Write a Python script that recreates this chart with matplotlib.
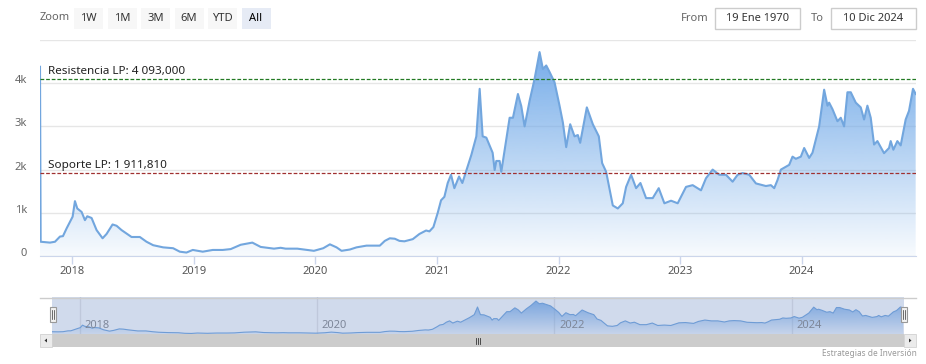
import numpy as np
import pandas as pd
import matplotlib
matplotlib.use("Agg")
import matplotlib.pyplot as plt
import matplotlib.dates as mdates
from matplotlib.colors import LinearSegmentedColormap, to_rgb
from matplotlib.patches import Rectangle, Polygon
from matplotlib.lines import Line2D
from matplotlib.transforms import ScaledTranslation

plt.rcParams['font.family'] = ['Noto Sans', 'DejaVu Sans']

# price series (date, value)
dates = [
    "2017-09-26", "2017-09-28", "2017-10-26", "2017-11-10", "2017-11-25", "2017-12-04",
    "2017-12-15", "2017-12-25", "2018-01-02", "2018-01-09", "2018-01-16", "2018-01-29",
    "2018-02-08", "2018-02-15", "2018-02-28", "2018-03-15", "2018-04-02", "2018-04-14",
    "2018-05-02", "2018-05-14", "2018-05-29", "2018-06-13", "2018-06-28", "2018-07-23",
    "2018-08-12", "2018-09-01", "2018-10-01", "2018-10-31", "2018-11-20", "2018-12-10",
    "2018-12-29", "2019-01-28", "2019-02-27", "2019-03-29", "2019-04-22", "2019-05-22",
    "2019-06-26", "2019-07-21", "2019-08-30", "2019-09-19", "2019-10-04", "2019-11-08",
    "2019-12-28", "2020-01-25", "2020-02-14", "2020-03-05", "2020-03-20", "2020-04-14",
    "2020-05-04", "2020-06-03", "2020-07-13", "2020-07-28", "2020-08-12", "2020-08-27",
    "2020-09-10", "2020-09-25", "2020-10-20", "2020-11-09", "2020-11-29", "2020-12-09",
    "2020-12-21", "2021-01-03", "2021-01-13", "2021-01-23", "2021-02-02", "2021-02-12",
    "2021-02-22", "2021-03-08", "2021-03-18", "2021-03-31", "2021-04-14", "2021-04-29",
    "2021-05-09", "2021-05-18", "2021-05-29", "2021-06-17", "2021-06-23", "2021-06-28",
    "2021-07-08", "2021-07-13", "2021-08-07", "2021-08-17", "2021-09-01", "2021-09-11",
    "2021-09-21", "2021-10-06", "2021-10-21", "2021-11-05", "2021-11-15", "2021-11-25",
    "2021-12-05", "2021-12-20", "2022-01-04", "2022-01-14", "2022-01-24", "2022-02-05",
    "2022-02-18", "2022-02-28", "2022-03-07", "2022-03-27", "2022-04-14", "2022-05-02",
    "2022-05-12", "2022-05-24", "2022-06-13", "2022-06-28", "2022-07-13", "2022-07-23",
    "2022-08-07", "2022-08-22", "2022-09-04", "2022-09-21", "2022-10-11", "2022-10-29",
    "2022-11-15", "2022-12-05", "2022-12-25", "2023-01-04", "2023-01-19", "2023-02-08",
    "2023-03-05", "2023-03-20", "2023-04-09", "2023-04-29", "2023-05-19", "2023-06-08",
    "2023-06-23", "2023-07-08", "2023-07-28", "2023-08-17", "2023-09-16", "2023-10-01",
    "2023-10-11", "2023-10-21", "2023-10-31", "2023-11-25", "2023-12-05", "2023-12-15",
    "2023-12-30", "2024-01-09", "2024-01-24", "2024-02-03", "2024-02-23", "2024-03-09",
    "2024-03-19", "2024-03-24", "2024-04-03", "2024-04-18", "2024-04-28", "2024-05-08",
    "2024-05-18", "2024-05-28", "2024-06-12", "2024-06-27", "2024-07-07", "2024-07-17",
    "2024-07-27", "2024-08-06", "2024-08-16", "2024-09-05", "2024-09-20", "2024-09-25",
    "2024-10-03", "2024-10-15", "2024-10-25", "2024-11-09", "2024-11-19", "2024-12-01",
    "2024-12-09",
]
prices = [
    4380, 330, 310, 330, 450, 460,
    640, 790, 910, 1270, 1100, 1020,
    830, 920, 880, 600, 410, 510,
    730, 700, 600, 520, 440, 440,
    330, 250, 200, 180, 100, 80,
    140, 100, 140, 140, 160, 260,
    310, 210, 170, 190, 170, 170,
    120, 180, 270, 200, 120, 150,
    200, 240, 240, 350, 410, 400,
    350, 340, 390, 510, 590, 570,
    670, 1000, 1290, 1370, 1690, 1880,
    1570, 1840, 1690, 2000, 2340, 2770,
    3870, 2770, 2740, 2390, 1990, 2200,
    2200, 1950, 3200, 3200, 3750, 3470,
    3000, 3590, 4100, 4720, 4330, 4410,
    4260, 4020, 3480, 3090, 2520, 3050,
    2770, 2800, 2620, 3440, 3050, 2770,
    2150, 1950, 1170, 1100, 1220, 1600,
    1880, 1570, 1690, 1340, 1340, 1570,
    1220, 1280, 1220, 1370, 1600, 1640,
    1520, 1800, 2000, 1880, 1880, 1720,
    1880, 1920, 1880, 1680, 1620, 1640,
    1570, 1760, 2000, 2110, 2300, 2250,
    2300, 2500, 2270, 2390, 3000, 3850,
    3480, 3550, 3400, 3120, 3200, 3000,
    3790, 3790, 3550, 3440, 3160, 3480,
    3200, 2580, 2660, 2380, 2500, 2660,
    2460, 2660, 2560, 3160, 3360, 3870,
    3750,
]

resistance = 4093.0
support = 1911.81
resistance_label = "Resistencia LP: 4 093,000"
support_label = "Soporte LP: 1 911,810"
y_ticks = [0, 1000, 2000, 3000, 4000, 5000]
y_labels = ["0", "1k", "2k", "3k", "4k", ""]
years = [2018, 2019, 2020, 2021, 2022, 2023, 2024]
nav_years = [2018, 2020, 2022, 2024]
zoom_buttons = ["1W", "1M", "3M", "6M", "YTD", "All"]
date_from = "19 Ene 1970"
date_to = "10 Dic 2024"
credit = "Estrategias de Inversión"

W, H = 926, 364
fig = plt.figure(figsize=(W / 100, H / 100), dpi=100)
fig.patch.set_facecolor("white")


def fx(px):
    return px / W


def fy(py):
    return 1 - py / H


def box(x0, y0, x1, y1, face, edge="none", lw=1, z=1):
    fig.patches.append(Rectangle((fx(x0), fy(y1)), fx(x1 - x0), (y1 - y0) / H,
                                 transform=fig.transFigure, facecolor=face,
                                 edgecolor=edge, linewidth=lw, zorder=z))


def hline(x0, x1, y, color, lw=1, z=2):
    fig.lines.append(Line2D([fx(x0), fx(x1)], [fy(y), fy(y)], transform=fig.transFigure,
                            color=color, linewidth=lw, zorder=z))


def vline(x, y0, y1, color, lw=1, z=2):
    fig.lines.append(Line2D([fx(x), fx(x)], [fy(y0), fy(y1)], transform=fig.transFigure,
                            color=color, linewidth=lw, zorder=z))


def gradient_area(ax, x, y, top, color, a0, a1, z=1):
    poly = ax.fill_between(x, y, 0, facecolor="none", edgecolor="none")
    rgb = to_rgb(color)
    cmap = LinearSegmentedColormap.from_list("fade", [(*rgb, a0), (*rgb, a1)])
    im = ax.imshow(np.linspace(0, 1, 256).reshape(-1, 1), cmap=cmap, aspect="auto",
                   origin="lower", extent=[x[0], x[-1], 0, top], zorder=z,
                   interpolation="bilinear")
    im.set_clip_path(poly.get_paths()[0], transform=ax.transData)


x = mdates.date2num(pd.to_datetime(dates))
y = np.array(prices, dtype=float)
line_color = "#72a6de"
fill_color = "#6fa8e8"

# ---- main chart
ax = fig.add_axes([fx(40), fy(256), fx(876), 216 / H])
gradient_area(ax, x, y, y.max(), fill_color, 0.05, 0.95)
ax.plot(x, y, color=line_color, lw=1.5, zorder=3, solid_joinstyle="round")

ax.axhline(resistance, color="#237a23", lw=0.9, ls=(0, (3, 1.5)), zorder=4)
ax.axhline(support, color="#a03030", lw=0.9, ls=(0, (3, 1.5)), zorder=4)
for val, txt in [(resistance, resistance_label), (support, support_label)]:
    ax.annotate(txt, xy=(0, val), xycoords=("axes fraction", "data"),
                xytext=(6, 1.5), textcoords="offset points", ha="left", va="bottom",
                fontsize=8.4, color="#222222", zorder=5)

ax.set_xlim(mdates.date2num(pd.Timestamp("2017-09-26")), mdates.date2num(pd.Timestamp("2024-12-10")))
ax.set_ylim(0, 5000)
ax.set_yticks(y_ticks)
ax.set_yticklabels(y_labels)
ax.set_xticks([mdates.date2num(pd.Timestamp(f"{yr}-01-01")) for yr in years])
ax.set_xticklabels([str(yr) for yr in years])
ax.grid(axis="y", color="#e6e6e6", lw=1, zorder=0)
ax.set_axisbelow(True)
for s in ["left", "right", "top"]:
    ax.spines[s].set_visible(False)
ax.spines["bottom"].set_color("#ccd6eb")
ax.tick_params(axis="y", length=0, pad=9.5, labelsize=8, labelcolor="#666666")
ax.tick_params(axis="x", length=5.5, width=1, color="#ccd6eb", pad=1.5,
               labelsize=8, labelcolor="#555555")
shift = ScaledTranslation(0, 4 / 100, fig.dpi_scale_trans)
for lab in ax.get_yticklabels():
    lab.set_transform(lab.get_transform() + shift)

# ---- range selector
fig.text(fx(40), fy(18), "Zoom", fontsize=8, color="#666666", ha="left", va="center")
for i, name in enumerate(zoom_buttons):
    x0 = 74 + 33.5 * i
    sel = name == "All"
    box(x0, 8, x0 + 29, 29, "#e6ebf5" if sel else "#f7f7f7")
    fig.text(fx(x0 + 14.5), fy(18.5), name, fontsize=8, color="#333333" if not sel else "#000000",
             ha="center", va="center", fontweight="bold" if sel else "normal")

fig.text(fx(709), fy(18.5), "From", fontsize=8, color="#666666", ha="right", va="center")
box(715, 8, 800, 29, "white", "#cccccc")
fig.text(fx(757.5), fy(18.5), date_from, fontsize=8, color="#333333", ha="center", va="center")
fig.text(fx(823.5), fy(18.5), "To", fontsize=8, color="#666666", ha="right", va="center")
box(831, 8, 916, 29, "white", "#cccccc")
fig.text(fx(873.5), fy(18.5), date_to, fontsize=8, color="#333333", ha="center", va="center")

# ---- navigator
nav = fig.add_axes([fx(52), fy(334), fx(852), 37 / H])
nav.axis("off")
gradient_area(nav, x[1:], y[1:], y[1:].max(), fill_color, 0.1, 0.85)
nav.plot(x[1:], y[1:], color=line_color, lw=0.8, zorder=3)
for yr in nav_years:
    d = mdates.date2num(pd.Timestamp(f"{yr}-01-01"))
    nav.axvline(d, color="#e6e6e6", lw=1, zorder=0.5)
    nav.annotate(str(yr), xy=(d, 0.22), xycoords=("data", "axes fraction"),
                 xytext=(3.5, 0), textcoords="offset points", ha="left", va="center",
                 fontsize=8, color="#888888", zorder=4)
nav.axvspan(-1e6, 1e6, color=(102 / 255, 133 / 255, 194 / 255), alpha=0.3, lw=0, zorder=5)
nav.set_xlim(mdates.date2num(pd.Timestamp("2017-10-07")), mdates.date2num(pd.Timestamp("2024-12-12")))
nav.set_ylim(0, 5300)

hline(40, 916, 297.5, "#cccccc", lw=1, z=3)
for hx in [52.5, 903.5]:
    box(hx - 3, 307, hx + 3, 322, "#f2f2f2", "#999999", lw=0.8, z=6)
    vline(hx - 1, 310, 319, "#333333", lw=0.5, z=7)
    vline(hx + 1, 310, 319, "#333333", lw=0.5, z=7)

# ---- scrollbar
box(40, 334, 916, 347, "#f2f2f2", z=2)
box(52, 334, 904, 347, "#cccccc", z=3)
box(40, 334, 52, 347, "#ebebeb", "#cccccc", lw=0.5, z=3)
box(904, 334, 916, 347, "#ebebeb", "#cccccc", lw=0.5, z=3)
fig.patches.append(Polygon([(fx(44.5), fy(340.5)), (fx(47), fy(338.5)), (fx(47), fy(342.5))],
                           transform=fig.transFigure, facecolor="#333333", edgecolor="none", zorder=4))
fig.patches.append(Polygon([(fx(911.5), fy(340.5)), (fx(909), fy(338.5)), (fx(909), fy(342.5))],
                           transform=fig.transFigure, facecolor="#333333", edgecolor="none", zorder=4))
for gx in [476, 478, 480]:
    vline(gx, 337.5, 343.5, "#333333", lw=0.6, z=4)

fig.text(fx(917), fy(353), credit, fontsize=6, color="#999999", ha="right", va="center")

fig.savefig("out.png", dpi=100, facecolor="white")
